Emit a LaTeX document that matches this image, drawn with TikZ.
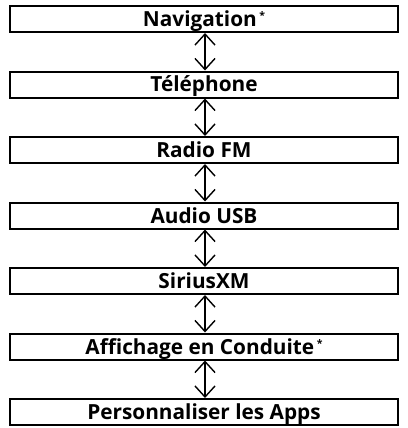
\documentclass[tikz,border=0pt]{standalone}
\usepackage{fontspec}
\setmainfont{Open Sans}
\usetikzlibrary{arrows.meta}
\newcommand{\footast}{\hspace{2.5pt}\raisebox{6.5pt}{\fontsize{10.5}{10.5}\selectfont *}}
\begin{document}
\begin{tikzpicture}[x=1pt,y=-1pt,
  menubox/.style={draw=black, line width=2pt, rectangle, minimum width=388pt, minimum height=26pt, inner sep=0pt,
    text height=15pt, text depth=0pt,
    font=\fontsize{20.8}{23}\selectfont\bfseries},
  updown/.style={line width=1.4pt, {Straight Barb[length=11pt,width=20pt,line width=1.4pt]}-{Straight Barb[length=11pt,width=20pt,line width=1.4pt]}}
]
\useasboundingbox (0,0) rectangle (407,428);
\node[menubox] (n1) at (204,19) {Navigation\footast};
\node[menubox] (n2) at (204,84.5) {Téléphone};
\node[menubox] (n3) at (204,150) {Radio FM};
\node[menubox] (n4) at (204,215.5) {Audio USB};
\node[menubox] (n5) at (204,281) {SiriusXM};
\node[menubox] (n6) at (204,346.5) {Affichage en Conduite\footast};
\node[menubox] (n7) at (204,412) {Personnaliser les Apps};
\foreach \a/\b in {n1/n2,n2/n3,n3/n4,n4/n5,n5/n6,n6/n7}
  \draw[updown] ([xshift=1pt]\a.south) -- ([xshift=1pt]\b.north);
\end{tikzpicture}
\end{document}
